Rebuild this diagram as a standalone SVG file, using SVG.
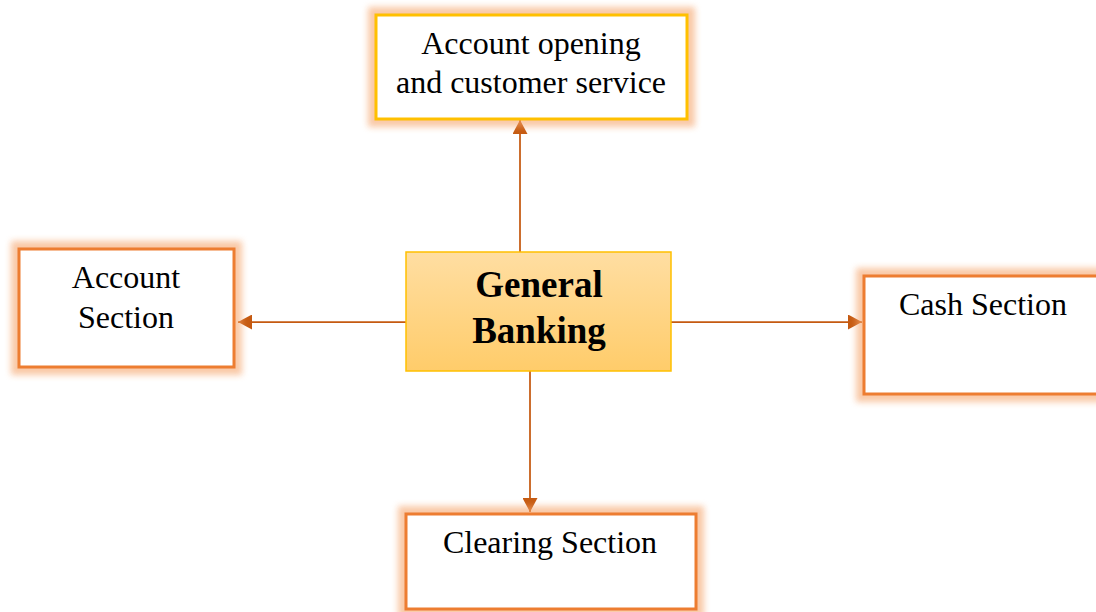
<svg xmlns="http://www.w3.org/2000/svg" width="1096" height="612" viewBox="0 0 1096 612">
<style>
.glow{fill:none;stroke:#F5A46A;stroke-width:16;opacity:0.6;filter:url(#blur)}
.box{fill:#FFFFFF;stroke:#ED7D31;stroke-width:3}
.boxy{fill:#FFFFFF;stroke:#FFC000;stroke-width:3}
.t{font-family:"Liberation Serif","Times New Roman",serif;font-size:32px;fill:#000;text-anchor:middle}
.tb{font-family:"Liberation Serif","Times New Roman",serif;font-size:37px;font-weight:bold;fill:#000;text-anchor:middle}
.conn{stroke:#C55A11;stroke-width:1.75;fill:none;marker-end:url(#arr)}
</style>
<defs>
<filter id="blur" x="-20%" y="-20%" width="140%" height="140%"><feGaussianBlur stdDeviation="3"/></filter>
<linearGradient id="g" x1="0" y1="0" x2="0" y2="1"><stop offset="0" stop-color="#FFDEA2"/><stop offset="1" stop-color="#FFCC6A"/></linearGradient>
<marker id="arr" viewBox="0 0 14 15" refX="14" refY="7.5" markerWidth="14" markerHeight="15" markerUnits="userSpaceOnUse" orient="auto"><path d="M0,0 L14,7.5 L0,15 Z" fill="#C55A11"/></marker>
</defs>
<rect width="1096" height="612" fill="#FFFFFF"/>
<g id="connectors">
<line class="conn" x1="520" y1="252" x2="520" y2="120"/>
<line class="conn" x1="530" y1="371" x2="530" y2="512"/>
<line class="conn" x1="406" y1="322" x2="238" y2="322"/>
<line class="conn" x1="671" y1="322" x2="862" y2="322"/>
</g>
<g id="top">
<rect class="glow" x="376" y="15" width="311" height="104"/>
<rect class="boxy" x="376" y="15" width="311" height="104"/>
<text class="t" x="531" y="54">Account opening</text>
<text class="t" x="531" y="93">and customer service</text>
</g>
<g id="center">
<rect x="406" y="252" width="265" height="119" fill="url(#g)" stroke="#FFC000" stroke-width="1.5"/>
<text class="tb" x="539" y="297">General</text>
<text class="tb" x="539" y="343">Banking</text>
</g>
<g id="left">
<rect class="glow" x="19" y="249" width="215" height="118"/>
<rect class="box" x="19" y="249" width="215" height="118"/>
<text class="t" x="126" y="288">Account</text>
<text class="t" x="126" y="328">Section</text>
</g>
<g id="right">
<rect class="glow" x="864" y="276" width="250" height="118"/>
<rect class="box" x="864" y="276" width="250" height="118"/>
<text class="t" x="983" y="315">Cash Section</text>
</g>
<g id="bottom">
<rect class="glow" x="406" y="514" width="290" height="95"/>
<rect class="box" x="406" y="514" width="290" height="95"/>
<text class="t" x="550" y="553">Clearing Section</text>
</g>
</svg>
